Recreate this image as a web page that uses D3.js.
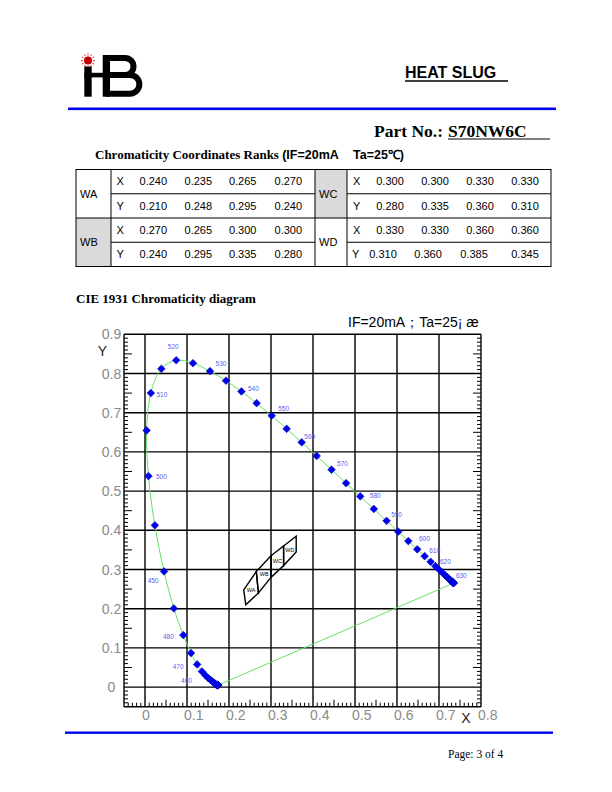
<!DOCTYPE html>
<html><head><meta charset="utf-8">
<script src="https://cdn.jsdelivr.net/npm/d3@7"></script>
<style>body{margin:0;background:#fff}svg{display:block}</style>
</head><body>
<script>
// ---------------- DATA ----------------
const rankNames = ["WA", "WB", "WC", "WD"];
const rankX = [[0.240, 0.235, 0.265, 0.270], [0.270, 0.265, 0.300, 0.300], [0.300, 0.300, 0.330, 0.330], [0.330, 0.330, 0.360, 0.360]];
const rankY = [[0.210, 0.248, 0.295, 0.240], [0.240, 0.295, 0.335, 0.280], [0.280, 0.335, 0.360, 0.310], [0.310, 0.360, 0.385, 0.345]];

const wavelengths = [380, 385, 390, 395, 400, 405, 410, 415, 420, 425, 430, 435, 440, 445, 450, 455, 460, 465, 470, 475, 480, 485, 490, 495, 500, 505, 510, 515, 520, 525, 530, 535, 540, 545, 550, 555, 560, 565, 570, 575, 580, 585, 590, 595, 600, 605, 610, 615, 620, 625, 630, 635, 640, 645, 650, 655, 660, 665, 670, 675, 680, 685, 690, 695, 700];
const locusX = [0.1741, 0.1740, 0.1738, 0.1736, 0.1733, 0.1730, 0.1726, 0.1721, 0.1714, 0.1703, 0.1689, 0.1669, 0.1644, 0.1611, 0.1566, 0.1510, 0.1440, 0.1355, 0.1241, 0.1096, 0.0913, 0.0687, 0.0454, 0.0235, 0.0082, 0.0039, 0.0139, 0.0389, 0.0743, 0.1142, 0.1547, 0.1929, 0.2296, 0.2658, 0.3016, 0.3373, 0.3731, 0.4087, 0.4441, 0.4788, 0.5125, 0.5448, 0.5752, 0.6029, 0.6270, 0.6482, 0.6658, 0.6801, 0.6915, 0.7006, 0.7079, 0.7140, 0.7190, 0.7230, 0.7260, 0.7283, 0.7300, 0.7311, 0.7320, 0.7327, 0.7334, 0.7340, 0.7344, 0.7346, 0.7347];
const locusY = [0.0050, 0.0050, 0.0049, 0.0049, 0.0048, 0.0048, 0.0048, 0.0048, 0.0051, 0.0058, 0.0069, 0.0086, 0.0109, 0.0138, 0.0177, 0.0227, 0.0297, 0.0399, 0.0578, 0.0868, 0.1327, 0.2007, 0.2950, 0.4127, 0.5384, 0.6548, 0.7502, 0.8120, 0.8338, 0.8262, 0.8059, 0.7816, 0.7543, 0.7243, 0.6923, 0.6589, 0.6245, 0.5896, 0.5547, 0.5202, 0.4866, 0.4544, 0.4242, 0.3965, 0.3725, 0.3514, 0.3340, 0.3197, 0.3083, 0.2993, 0.2920, 0.2859, 0.2809, 0.2770, 0.2740, 0.2717, 0.2700, 0.2689, 0.2680, 0.2673, 0.2666, 0.2660, 0.2656, 0.2654, 0.2653];

const labelNm = [460, 470, 480, 490, 500, 510, 520, 530, 540, 550, 560, 570, 580, 590, 600, 610, 620, 630];
const labelText = ["460", "470", "480", "450", "500", "510", "520", "530", "540", "550", "560", "570", "580", "590", "600", "610", "620", "630"];

const xTicks = [0, 0.1, 0.2, 0.3, 0.4, 0.5, 0.6, 0.7, 0.8];
const yTicks = [0, 0.1, 0.2, 0.3, 0.4, 0.5, 0.6, 0.7, 0.8, 0.9];
const xTickLabels = ["0", "0.1", "0.2", "0.3", "0.4", "0.5", "0.6", "0.7", "0.8"];
const yTickLabels = ["0", "0.1", "0.2", "0.3", "0.4", "0.5", "0.6", "0.7", "0.8", "0.9"];

// ---------------- LAYOUT ----------------
const svg = d3.select("body").append("svg").attr("width", 612).attr("height", 792);
const serif = "'Liberation Serif','Times New Roman',serif";
const sans = "'Liberation Sans',Arial,sans-serif";

// Logo
const logo = svg.append("g");
logo.append("circle").attr("cx", 88).attr("cy", 60.5).attr("r", 4).attr("fill", "#c00000");
d3.range(12).forEach(i => {
  const a = i * Math.PI / 6;
  logo.append("line")
    .attr("x1", 88 + Math.cos(a) * 5).attr("y1", 60.5 + Math.sin(a) * 5)
    .attr("x2", 88 + Math.cos(a) * 7).attr("y2", 60.5 + Math.sin(a) * 7)
    .attr("stroke", "#e03030").attr("stroke-width", 1);
});
logo.append("rect").attr("x", 84.3).attr("y", 66.5).attr("width", 7.4).attr("height", 30.2).attr("fill", "#000");
logo.append("rect").attr("x", 84.3).attr("y", 72.8).attr("width", 20).attr("height", 4.6).attr("fill", "#000");
logo.append("rect").attr("x", 102.7).attr("y", 55).attr("width", 7.3).attr("height", 41.7).attr("fill", "#000");
logo.append("path").attr("d", "M106,58 H125 A8.5,8.5 0 0 1 125,75 H106").attr("fill", "none").attr("stroke", "#000").attr("stroke-width", 6);
logo.append("path").attr("d", "M106,75 H130 A9.35,9.35 0 0 1 130,93.7 H106").attr("fill", "none").attr("stroke", "#000").attr("stroke-width", 6);

// Header texts
svg.append("text").attr("x", 405).attr("y", 78).attr("font-family", sans).attr("font-weight", "bold")
  .attr("font-size", 16).text("HEAT SLUG");
svg.append("line").attr("x1", 405).attr("x2", 508).attr("y1", 81).attr("y2", 81).attr("stroke", "#000").attr("stroke-width", 1.3);
svg.append("rect").attr("x", 68).attr("y", 107.5).attr("width", 488).attr("height", 2.6).attr("fill", "#0000f0");
svg.append("text").attr("x", 374).attr("y", 136.7).attr("font-family", serif).attr("font-weight", "bold")
  .attr("font-size", 17.5).text("Part No.:");
svg.append("text").attr("x", 448).attr("y", 136.7).attr("font-family", serif).attr("font-weight", "bold")
  .attr("font-size", 17.5).text("S70NW6C");
svg.append("line").attr("x1", 448).attr("x2", 550).attr("y1", 139).attr("y2", 139).attr("stroke", "#000").attr("stroke-width", 1.2);

// Table title
const tt = svg.append("text").attr("x", 95).attr("y", 158.5).attr("font-size", 13);
tt.append("tspan").attr("font-family", serif).attr("font-weight", "bold").text("Chromaticity Coordinates Ranks ");
tt.append("tspan").attr("font-family", sans).attr("font-weight", "bold").attr("font-size", 12.5).text("(IF=20mA");
tt.append("tspan").attr("x", 353).attr("font-family", sans).attr("font-weight", "bold").attr("font-size", 12.5).text("Ta=25\u2103)");

// Table
const fmt = d3.format(".3f");
const T = {x0: 76, x1: 551, y0: 169.5, y1: 266.5};
const rowH = (T.y1 - T.y0) / 4;
const groups = [
  {rank: 0, lx: 76, lw: 35, row: 0, letterX: 116.5, cols: [[153.3, 198.3, 242.7, 288.3], [153.3, 198.3, 242.7, 288.3]], gray: false},
  {rank: 1, lx: 76, lw: 35, row: 2, letterX: 116.5, cols: [[153.3, 198.3, 242.7, 288.3], [153.3, 198.3, 242.7, 288.3]], gray: true},
  {rank: 2, lx: 315, lw: 32, row: 0, letterX: 353, cols: [[390, 435, 480, 525], [390, 435, 480, 525]], gray: true},
  {rank: 3, lx: 315, lw: 32, row: 2, letterX: 353, cols: [[390, 435, 480, 525], [383, 428, 474, 525]], gray: false}
];
const tg = svg.append("g").attr("font-family", sans).attr("font-size", 11);
groups.forEach(g => {
  const gy = T.y0 + g.row * rowH;
  if (g.gray) tg.append("rect").attr("x", g.lx).attr("y", gy).attr("width", g.lw).attr("height", rowH * 2).attr("fill", "#dadada");
  tg.append("text").attr("x", g.lx + 4).attr("y", gy + rowH).attr("dy", "0.35em").text(rankNames[g.rank]);
  [rankX[g.rank], rankY[g.rank]].forEach((vals, r) => {
    const cy = gy + rowH * r + rowH / 2;
    tg.append("text").attr("x", g.letterX - (g.rank === 3 && r === 1 ? 1 : 0)).attr("y", cy).attr("dy", "0.35em").text(r === 0 ? "X" : "Y");
    vals.forEach((v, i) => {
      tg.append("text").attr("x", g.cols[r][i]).attr("y", cy).attr("dy", "0.35em").attr("text-anchor", "middle").text(fmt(v));
    });
  });
});
const tl = svg.append("g").attr("stroke", "#000").attr("stroke-width", 1);
tl.append("rect").attr("x", T.x0).attr("y", T.y0).attr("width", T.x1 - T.x0).attr("height", T.y1 - T.y0).attr("fill", "none");
tl.append("line").attr("x1", T.x0).attr("x2", T.x1).attr("y1", T.y0 + 2 * rowH).attr("y2", T.y0 + 2 * rowH);
[1, 3].forEach(r => {
  tl.append("line").attr("x1", 111).attr("x2", 315).attr("y1", T.y0 + r * rowH).attr("y2", T.y0 + r * rowH);
  tl.append("line").attr("x1", 347).attr("x2", T.x1).attr("y1", T.y0 + r * rowH).attr("y2", T.y0 + r * rowH);
});
[111, 315, 347].forEach(x => tl.append("line").attr("x1", x).attr("x2", x).attr("y1", T.y0).attr("y2", T.y1));

// CIE title
svg.append("text").attr("x", 76).attr("y", 303.3).attr("font-family", serif).attr("font-weight", "bold")
  .attr("font-size", 13).text("CIE 1931 Chromaticity diagram");
svg.append("text").attr("x", 348).attr("y", 327).attr("font-family", sans).attr("font-size", 14)
  .text("IF=20mA\uFF1BTa=25\u00A1 \u00E6");

// ---------------- CHART ----------------
const x = d3.scaleLinear().domain([-0.05, 0.8]).range([124, 481]);
const y = d3.scaleLinear().domain([-0.05, 0.9]).range([706.7, 334.3]);
const chart = svg.append("g");

// minor ticks
const tk = chart.append("g").attr("stroke", "#000").attr("stroke-width", 1);
for (let i = -4; i < 80; i++) {
  if (i % 10 === 0) continue;
  const len = i % 5 === 0 ? 7 : 4;
  tk.append("line").attr("x1", x(i / 100)).attr("x2", x(i / 100)).attr("y1", y(-0.05)).attr("y2", y(-0.05) - len);
}
for (let j = -4; j < 90; j++) {
  if (j % 10 === 0) continue;
  const len = j % 5 === 0 ? 8 : 4;
  tk.append("line").attr("x1", x(-0.05)).attr("x2", x(-0.05) + len).attr("y1", y(j / 100)).attr("y2", y(j / 100));
  tk.append("line").attr("x1", x(0.8)).attr("x2", x(0.8) - len).attr("y1", y(j / 100)).attr("y2", y(j / 100));
}

// grid
const grid = chart.append("g").attr("stroke", "#000").attr("stroke-width", 1.4);
xTicks.forEach(v => grid.append("line").attr("x1", x(v)).attr("x2", x(v)).attr("y1", y(0.9)).attr("y2", y(-0.05)));
yTicks.forEach(v => grid.append("line").attr("x1", x(-0.05)).attr("x2", x(0.8)).attr("y1", y(v)).attr("y2", y(v)));
grid.append("line").attr("x1", x(-0.05)).attr("x2", x(-0.05)).attr("y1", y(0.9)).attr("y2", y(-0.05));
grid.append("line").attr("x1", x(-0.05)).attr("x2", x(0.8)).attr("y1", y(-0.05)).attr("y2", y(-0.05));

// tick labels
const lab = chart.append("g").attr("font-family", sans).attr("font-size", 14).attr("fill", "#8a8a8a");
xTicks.forEach((v, i) => lab.append("text").attr("x", x(v) - 3).attr("y", 720).text(xTickLabels[i]));
yTicks.forEach((v, i) => lab.append("text").attr("x", 111.5).attr("y", y(v)).attr("dy", "0.36em").attr("text-anchor", "middle").text(yTickLabels[i]));
chart.append("text").attr("x", 102.3).attr("y", 351).attr("dy", "0.36em").attr("text-anchor", "middle")
  .attr("font-family", sans).attr("font-size", 14).attr("fill", "#222").text("Y");
chart.append("text").attr("x", 466).attr("y", 718).attr("dy", "0.36em").attr("text-anchor", "middle")
  .attr("font-family", sans).attr("font-size", 14).attr("fill", "#222").text("X");

// spectral locus
const pts = wavelengths.map((w, i) => [locusX[i], locusY[i]]);
const line = d3.line().x(d => x(d[0])).y(d => y(d[1])).curve(d3.curveCatmullRom);
chart.append("path").attr("d", line(pts)).attr("fill", "none").attr("stroke", "#66e066").attr("stroke-width", 1);
chart.append("line").attr("x1", x(pts[pts.length - 1][0])).attr("y1", y(pts[pts.length - 1][1]))
  .attr("x2", x(pts[0][0])).attr("y2", y(pts[0][1])).attr("stroke", "#66e066").attr("stroke-width", 1);

// markers
const sym = d3.symbol().type(d3.symbolSquare).size(30);
chart.append("g").selectAll("path").data(pts).join("path")
  .attr("d", sym)
  .attr("transform", d => `translate(${x(d[0])},${y(d[1])}) rotate(45)`)
  .attr("fill", "#0000f0").attr("stroke", "#0010b0").attr("stroke-width", 0.5);

// wavelength labels
const labelOffset = {460: [-19, 5], 470: [-19, 2], 480: [-15, 2], 490: [-11, 9], 500: [13, 1], 510: [11, 2], 520: [-3, -14],
  530: [11, -7], 540: [12, -3], 550: [12, -7], 560: [8, -6], 570: [11, -6], 580: [15, -1], 590: [10, -6],
  600: [16, -2], 610: [10, -5], 620: [10, -5], 630: [19, 3]};
const wl = chart.append("g").attr("font-family", sans).attr("font-size", 6.5).attr("fill", "#6060f0").attr("text-anchor", "middle");
labelNm.forEach((nm, i) => {
  const k = wavelengths.indexOf(nm);
  const o = labelOffset[nm];
  wl.append("text").attr("x", x(locusX[k]) + o[0]).attr("y", y(locusY[k]) + o[1]).attr("dy", "0.35em").text(labelText[i]);
});

// rank polygons
const rg = chart.append("g");
rankNames.forEach((nm, r) => {
  const poly = rankX[r].map((v, i) => [x(v), y(rankY[r][i])]);
  rg.append("path").attr("d", "M" + poly.join("L") + "Z").attr("fill", "none").attr("stroke", "#000").attr("stroke-width", 1.4);
  const cx = d3.mean(rankX[r]), cy = d3.mean(rankY[r]);
  rg.append("text").attr("x", x(cx)).attr("y", y(cy)).attr("dy", "0.35em").attr("text-anchor", "middle")
    .attr("font-family", sans).attr("font-size", 5.5).text(nm);
});

// footer
svg.append("rect").attr("x", 65).attr("y", 731.5).attr("width", 488).attr("height", 2.4).attr("fill", "#0000f0");
svg.append("text").attr("x", 448).attr("y", 758).attr("font-family", serif).attr("font-size", 11.5).text("Page: 3 of 4");
</script>
</body></html>
